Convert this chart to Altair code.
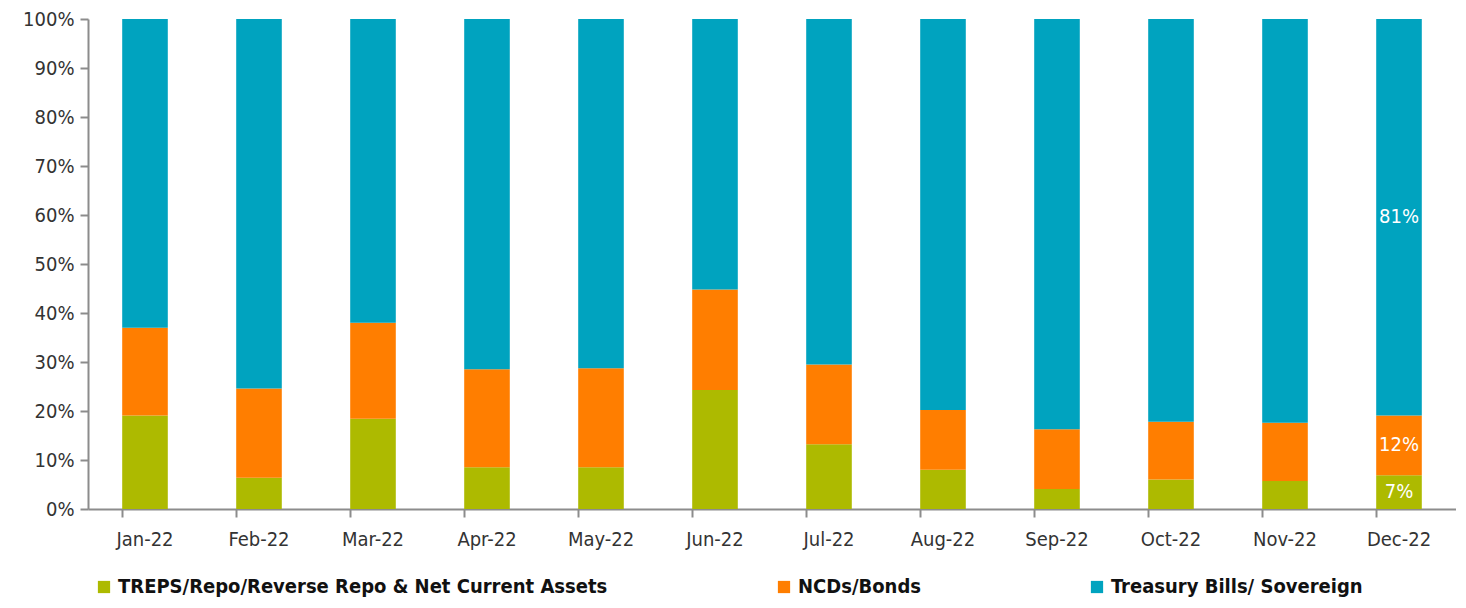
import altair as alt
import pandas as pd

months = ["Jan-22", "Feb-22", "Mar-22", "Apr-22", "May-22", "Jun-22",
          "Jul-22", "Aug-22", "Sep-22", "Oct-22", "Nov-22", "Dec-22"]
treps = [19.1, 6.4, 18.4, 8.5, 8.5, 24.3, 13.2, 8.0, 4.1, 6.0, 5.7, 6.9]
ncds = [17.9, 18.2, 19.6, 20.0, 20.2, 20.5, 16.3, 12.2, 12.2, 11.8, 11.9, 12.2]
tbills = [63.0, 75.4, 62.0, 71.5, 71.3, 55.2, 70.5, 79.8, 83.7, 82.2, 82.4, 80.9]

series = ["TREPS/Repo/Reverse Repo & Net Current Assets", "NCDs/Bonds", "Treasury Bills/ Sovereign"]
colors = ["#ADBA00", "#FF7E00", "#00A3BF"]
label_month = "Dec-22"

rows = []
for i, m in enumerate(months):
    base = 0.0
    for j, (name, vals) in enumerate(zip(series, [treps, ncds, tbills])):
        v = vals[i]
        rows.append({"month": m, "series": name, "order": j, "value": v / 100,
                     "mid": (base + v / 2) / 100, "label": f"{round(v)}%"})
        base += v
df = pd.DataFrame(rows)

FONT = "DejaVu Sans Condensed, Lato, sans-serif"

x = alt.X("month:N", sort=months, title=None,
          scale=alt.Scale(paddingInner=0.6, paddingOuter=0.3),
          axis=alt.Axis(labelAngle=0, labelFontSize=20, labelColor="#333333", labelFont=FONT,
                        domainColor="#8c8c8c", domainWidth=2, tickColor="#8c8c8c", tickWidth=2,
                        tickSize=8, bandPosition=0, labelPadding=12))

bars = alt.Chart(df).mark_bar().encode(
    x=x,
    y=alt.Y("value:Q", stack="zero", title=None,
            scale=alt.Scale(domain=[0, 1], nice=False),
            axis=alt.Axis(format=".0%", values=[i / 10 for i in range(11)], labelFontSize=20,
                          labelColor="#333333", labelFont=FONT, grid=False,
                          domainColor="#8c8c8c", domainWidth=2, tickColor="#8c8c8c",
                          tickWidth=2, tickSize=8, labelPadding=6)),
    color=alt.Color("series:N", sort=series,
                    scale=alt.Scale(domain=series, range=colors),
                    legend=alt.Legend(title=None, orient="none", direction="horizontal",
                                      legendX=6, legendY=558,
                                      symbolType="square", symbolSize=150, labelFontSize=20,
                                      labelFont=FONT, labelFontWeight="bold",
                                      labelColor="#111111", labelLimit=800,
                                      columnPadding=166, symbolStrokeWidth=0)),
    order=alt.Order("order:Q"),
)

labels = alt.Chart(df).transform_filter(
    alt.datum.month == label_month
).mark_text(color="white", fontSize=20, font=FONT, baseline="middle").encode(
    x=alt.X("month:N", sort=months),
    y=alt.Y("mid:Q"),
    text="label:N",
)

chart = (bars + labels).properties(
    width=1368, height=490,
    autosize=alt.AutoSizeParams(type="none"),
    padding={"left": 80, "top": 11, "right": 0, "bottom": 91},
).configure_view(stroke=None)

chart.save("out.html", embed_options={"renderer": "svg", "actions": False})
